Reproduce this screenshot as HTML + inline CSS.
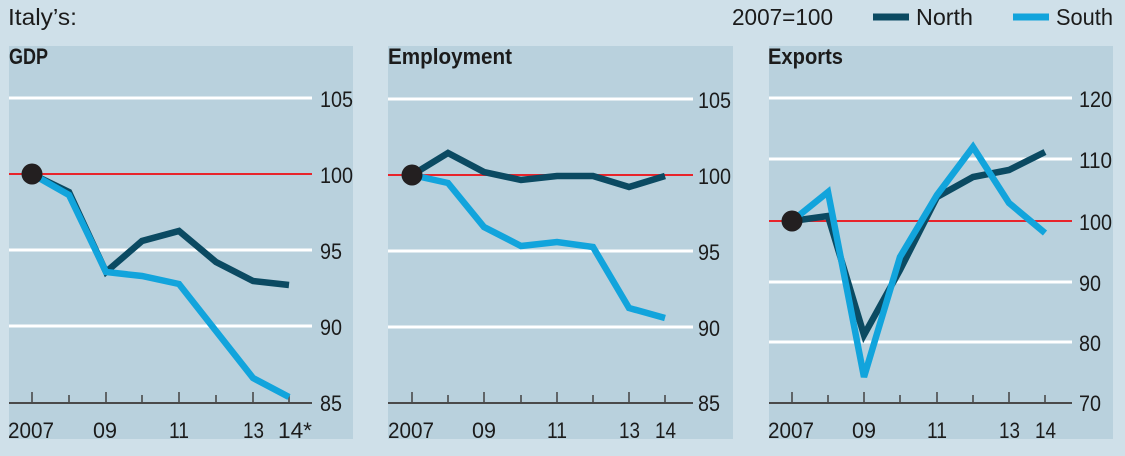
<!DOCTYPE html>
<html><head><meta charset="utf-8"><style>
html,body{margin:0;padding:0;background:#cfe0e9;}
svg{display:block;}
text{font-family:"Liberation Sans",sans-serif;fill:#1b1b1b;}
</style></head><body>
<svg width="1125" height="456" viewBox="0 0 1125 456" xmlns="http://www.w3.org/2000/svg">
<rect x="0" y="0" width="1125" height="456" fill="#cfe0e9"/>
<!-- header -->
<text x="8" y="25" font-size="23" textLength="69" lengthAdjust="spacingAndGlyphs">Italy’s:</text>
<text x="732" y="25" font-size="23" textLength="101" lengthAdjust="spacingAndGlyphs">2007=100</text>
<line x1="873" y1="17" x2="909" y2="17" stroke="#0b4a62" stroke-width="7"/>
<text x="916" y="25" font-size="23" textLength="57" lengthAdjust="spacingAndGlyphs">North</text>
<line x1="1013" y1="17" x2="1049" y2="17" stroke="#12a4dc" stroke-width="7"/>
<text x="1056" y="25" font-size="23" textLength="57" lengthAdjust="spacingAndGlyphs">South</text>

<!-- panels -->
<rect x="9" y="46" width="344" height="393" fill="#b9d1dd"/>
<rect x="388" y="46" width="345" height="393" fill="#b9d1dd"/>
<rect x="769" y="46" width="344" height="393" fill="#b9d1dd"/>

<!-- GDP -->
<text x="9" y="64" font-size="22" font-weight="bold" textLength="39" lengthAdjust="spacingAndGlyphs">GDP</text>
<g stroke="#ffffff" stroke-width="3">
<line x1="9" y1="98" x2="312" y2="98"/>
<line x1="9" y1="250" x2="312" y2="250"/>
<line x1="9" y1="326" x2="312" y2="326"/>
</g>
<line x1="9" y1="174" x2="312" y2="174" stroke="#e8242b" stroke-width="2"/>
<line x1="9" y1="403" x2="312" y2="403" stroke="#4a4a4a" stroke-width="2"/>
<g stroke="#4a4a4a" stroke-width="1.6">
<line x1="32" y1="392" x2="32" y2="403"/><line x1="69" y1="395" x2="69" y2="403"/>
<line x1="106" y1="392" x2="106" y2="403"/><line x1="142" y1="395" x2="142" y2="403"/>
<line x1="179" y1="392" x2="179" y2="403"/><line x1="216" y1="395" x2="216" y2="403"/>
<line x1="253" y1="392" x2="253" y2="403"/><line x1="289" y1="395" x2="289" y2="403"/>
</g>
<g font-size="22">
<text x="320" y="107" textLength="33" lengthAdjust="spacingAndGlyphs">105</text>
<text x="320" y="183" textLength="33" lengthAdjust="spacingAndGlyphs">100</text>
<text x="320" y="259" textLength="22" lengthAdjust="spacingAndGlyphs">95</text>
<text x="320" y="335" textLength="22" lengthAdjust="spacingAndGlyphs">90</text>
<text x="320" y="411" textLength="22" lengthAdjust="spacingAndGlyphs">85</text>
<text x="8" y="438" textLength="46" lengthAdjust="spacingAndGlyphs">2007</text>
<text x="93" y="438" textLength="24" lengthAdjust="spacingAndGlyphs">09</text>
<text x="169" y="438" textLength="20" lengthAdjust="spacingAndGlyphs">11</text>
<text x="243" y="438" textLength="21" lengthAdjust="spacingAndGlyphs">13</text>
<text x="278" y="438" textLength="34" lengthAdjust="spacingAndGlyphs">14*</text>
</g>
<polyline fill="none" stroke="#0b4a62" stroke-width="6.5" stroke-linejoin="miter" points="32,174 69,192 106,272 142,241 179,231 216,262 253,281 289,285"/>
<polyline fill="none" stroke="#12a4dc" stroke-width="6.5" stroke-linejoin="miter" points="32,174 69,195 106,272 142,276 179,284 216,331 253,378 289,397"/>
<circle cx="32" cy="174" r="10.5" fill="#231f20"/>

<!-- Employment -->
<text x="388" y="64" font-size="22" font-weight="bold" textLength="124" lengthAdjust="spacingAndGlyphs">Employment</text>
<g stroke="#ffffff" stroke-width="3">
<line x1="388" y1="99" x2="693" y2="99"/>
<line x1="388" y1="251" x2="693" y2="251"/>
<line x1="388" y1="327" x2="693" y2="327"/>
</g>
<line x1="388" y1="175" x2="693" y2="175" stroke="#e8242b" stroke-width="2"/>
<line x1="388" y1="403" x2="693" y2="403" stroke="#4a4a4a" stroke-width="2"/>
<g stroke="#4a4a4a" stroke-width="1.6">
<line x1="412" y1="392" x2="412" y2="403"/><line x1="448" y1="395" x2="448" y2="403"/>
<line x1="484" y1="392" x2="484" y2="403"/><line x1="521" y1="395" x2="521" y2="403"/>
<line x1="557" y1="392" x2="557" y2="403"/><line x1="593" y1="395" x2="593" y2="403"/>
<line x1="629" y1="392" x2="629" y2="403"/><line x1="665" y1="395" x2="665" y2="403"/>
</g>
<g font-size="22">
<text x="698" y="108" textLength="33" lengthAdjust="spacingAndGlyphs">105</text>
<text x="698" y="184" textLength="33" lengthAdjust="spacingAndGlyphs">100</text>
<text x="698" y="260" textLength="22" lengthAdjust="spacingAndGlyphs">95</text>
<text x="698" y="336" textLength="22" lengthAdjust="spacingAndGlyphs">90</text>
<text x="698" y="411" textLength="22" lengthAdjust="spacingAndGlyphs">85</text>
<text x="388" y="438" textLength="46" lengthAdjust="spacingAndGlyphs">2007</text>
<text x="472" y="438" textLength="24" lengthAdjust="spacingAndGlyphs">09</text>
<text x="547" y="438" textLength="20" lengthAdjust="spacingAndGlyphs">11</text>
<text x="619" y="438" textLength="21" lengthAdjust="spacingAndGlyphs">13</text>
<text x="655" y="438" textLength="21" lengthAdjust="spacingAndGlyphs">14</text>
</g>
<polyline fill="none" stroke="#0b4a62" stroke-width="6.5" stroke-linejoin="miter" points="412,175 448,153 484,172 521,180 557,176 593,176 629,187 665,176"/>
<polyline fill="none" stroke="#12a4dc" stroke-width="6.5" stroke-linejoin="miter" points="412,175 448,183 484,227 521,246 557,242 593,247 629,308 665,318"/>
<circle cx="412" cy="175" r="10.5" fill="#231f20"/>

<!-- Exports -->
<text x="768" y="64" font-size="22" font-weight="bold" textLength="75" lengthAdjust="spacingAndGlyphs">Exports</text>
<g stroke="#ffffff" stroke-width="3">
<line x1="769" y1="98" x2="1072" y2="98"/>
<line x1="769" y1="159" x2="1072" y2="159"/>
<line x1="769" y1="282" x2="1072" y2="282"/>
<line x1="769" y1="342" x2="1072" y2="342"/>
</g>
<line x1="769" y1="221" x2="1072" y2="221" stroke="#e8242b" stroke-width="2"/>
<line x1="769" y1="403" x2="1072" y2="403" stroke="#4a4a4a" stroke-width="2"/>
<g stroke="#4a4a4a" stroke-width="1.6">
<line x1="792" y1="392" x2="792" y2="403"/><line x1="828" y1="395" x2="828" y2="403"/>
<line x1="864" y1="392" x2="864" y2="403"/><line x1="900" y1="395" x2="900" y2="403"/>
<line x1="937" y1="392" x2="937" y2="403"/><line x1="973" y1="395" x2="973" y2="403"/>
<line x1="1009" y1="392" x2="1009" y2="403"/><line x1="1045" y1="395" x2="1045" y2="403"/>
</g>
<g font-size="22">
<text x="1079" y="107" textLength="33" lengthAdjust="spacingAndGlyphs">120</text>
<text x="1079" y="168" textLength="33" lengthAdjust="spacingAndGlyphs">110</text>
<text x="1079" y="230" textLength="33" lengthAdjust="spacingAndGlyphs">100</text>
<text x="1079" y="291" textLength="22" lengthAdjust="spacingAndGlyphs">90</text>
<text x="1079" y="351" textLength="22" lengthAdjust="spacingAndGlyphs">80</text>
<text x="1079" y="411" textLength="22" lengthAdjust="spacingAndGlyphs">70</text>
<text x="768" y="438" textLength="46" lengthAdjust="spacingAndGlyphs">2007</text>
<text x="852" y="438" textLength="24" lengthAdjust="spacingAndGlyphs">09</text>
<text x="927" y="438" textLength="20" lengthAdjust="spacingAndGlyphs">11</text>
<text x="999" y="438" textLength="21" lengthAdjust="spacingAndGlyphs">13</text>
<text x="1035" y="438" textLength="21" lengthAdjust="spacingAndGlyphs">14</text>
</g>
<polyline fill="none" stroke="#0b4a62" stroke-width="6.5" stroke-linejoin="miter" points="792,221 828,216 864,335 900,270 937,197 973,177 1009,170 1045,152"/>
<polyline fill="none" stroke="#12a4dc" stroke-width="6.5" stroke-linejoin="miter" points="792,221 828,192 864,377 900,257 937,195 973,147 1009,203 1045,233"/>
<circle cx="792" cy="221" r="10.5" fill="#231f20"/>
</svg>
</body></html>
